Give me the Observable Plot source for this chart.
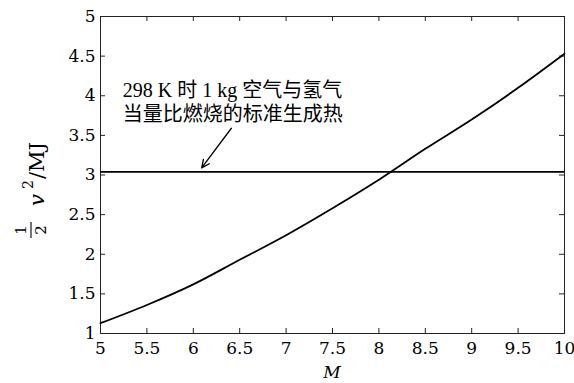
<!DOCTYPE html>
<html><head><meta charset="utf-8">
<script src="https://cdn.jsdelivr.net/npm/d3@7"></script>
<script src="https://cdn.jsdelivr.net/npm/@observablehq/plot@0.6"></script>
<style>body{margin:0;background:#fff}</style>
</head><body><div id="chart"></div>
<script>
// data
const machNumbers = [5, 5.5, 6, 6.5, 7, 7.5, 8, 8.5, 9, 9.5, 10];
const kineticEnergyMJ = [1.13, 1.36, 1.62, 1.93, 2.24, 2.58, 2.94, 3.33, 3.70, 4.10, 4.53];
const heatOfFormationMJ = 3.04;
const xTicks = [5, 5.5, 6, 6.5, 7, 7.5, 8, 8.5, 9, 9.5, 10];
const yTicks = [1, 1.5, 2, 2.5, 3, 3.5, 4, 4.5, 5];
const annotationLines = ["298 K 时 1 kg 空气与氢气", "当量比燃烧的标准生成热"];
const annotationPos = {x: 5.24, y: 3.93};
const arrowPos = {x1: 6.41, y1: 3.59, x2: 6.09, y2: 3.09};

const curve = machNumbers.map((m, i) => ({M: m, E: kineticEnergyMJ[i]}));
const W = 574, H = 383, mL = 100, mR = 10, mT = 16, mB = 50;
const pw = W - mL - mR, ph = H - mT - mB;
const serif = "'DejaVu Serif', 'Liberation Serif', serif";

const chart = Plot.plot({
  width: W, height: H,
  marginLeft: mL, marginRight: mR, marginTop: mT, marginBottom: mB,
  x: {domain: [5, 10]},
  y: {domain: [1, 5]},
  style: {fontFamily: serif, fontSize: "17px", color: "#000", background: "#fff"},
  marks: [
    Plot.axisX({ticks: xTicks, tickSize: 0, tickPadding: 8, tickFormat: d => String(d), label: null}),
    Plot.axisY({ticks: yTicks, tickSize: 0, tickPadding: 5, tickFormat: d => String(d), label: null}),
    Plot.ruleX(xTicks.slice(1, -1), {insetTop: ph - 5, stroke: "#222", strokeWidth: 1}),
    Plot.ruleX(xTicks.slice(1, -1), {insetBottom: ph - 5, stroke: "#222", strokeWidth: 1}),
    Plot.ruleY(yTicks.slice(1, -1), {insetRight: pw - 5, stroke: "#222", strokeWidth: 1}),
    Plot.ruleY(yTicks.slice(1, -1), {insetLeft: pw - 5, stroke: "#222", strokeWidth: 1}),
    Plot.frame({stroke: "#222", strokeWidth: 1}),
    Plot.ruleY([heatOfFormationMJ], {stroke: "#000", strokeWidth: 1.6}),
    Plot.line(curve, {x: "M", y: "E", stroke: "#000", strokeWidth: 1.8, curve: "monotone-x"}),
    Plot.arrow([arrowPos], {x1: "x1", y1: "y1", x2: "x2", y2: "y2", stroke: "#000", strokeWidth: 1.3, headLength: 10, headAngle: 50}),
    Plot.text([annotationLines.join("\n")], {
      x: annotationPos.x, y: annotationPos.y, text: d => d, textAnchor: "start", lineAnchor: "middle",
      lineHeight: 1.2, fontSize: 20, fill: "#000",
      fontFamily: "'Liberation Serif', 'Noto Sans CJK SC', serif"
    })
  ]
});
document.getElementById("chart").append(chart);

const svg = d3.select(chart);
// x label
svg.append("text").attr("x", mL + pw / 2).attr("y", 378)
  .attr("text-anchor", "middle").attr("font-style", "italic")
  .attr("font-family", serif).attr("font-size", 17).text("M");
// y label: (1/2) v^2 / MJ, rotated
const g = svg.append("g").attr("transform", "translate(45,244) rotate(-90)")
  .attr("font-family", serif).attr("fill", "#000").attr("text-anchor", "start");
g.append("text").attr("x", 14).attr("y", -19).attr("text-anchor", "middle").attr("font-size", 15).text("1");
g.append("line").attr("x1", 6).attr("x2", 22).attr("y1", -14).attr("y2", -14).attr("stroke", "#000").attr("stroke-width", 1.1);
g.append("text").attr("x", 14).attr("y", 1).attr("text-anchor", "middle").attr("font-size", 15).text("2");
g.append("text").attr("x", 38).attr("y", -1).attr("font-size", 21).attr("font-style", "italic").text("v");
g.append("text").attr("x", 55).attr("y", -12).attr("font-size", 14).text("2");
g.append("text").attr("x", 65).attr("y", -1).attr("font-size", 21).text("/MJ");
</script>
</body></html>
